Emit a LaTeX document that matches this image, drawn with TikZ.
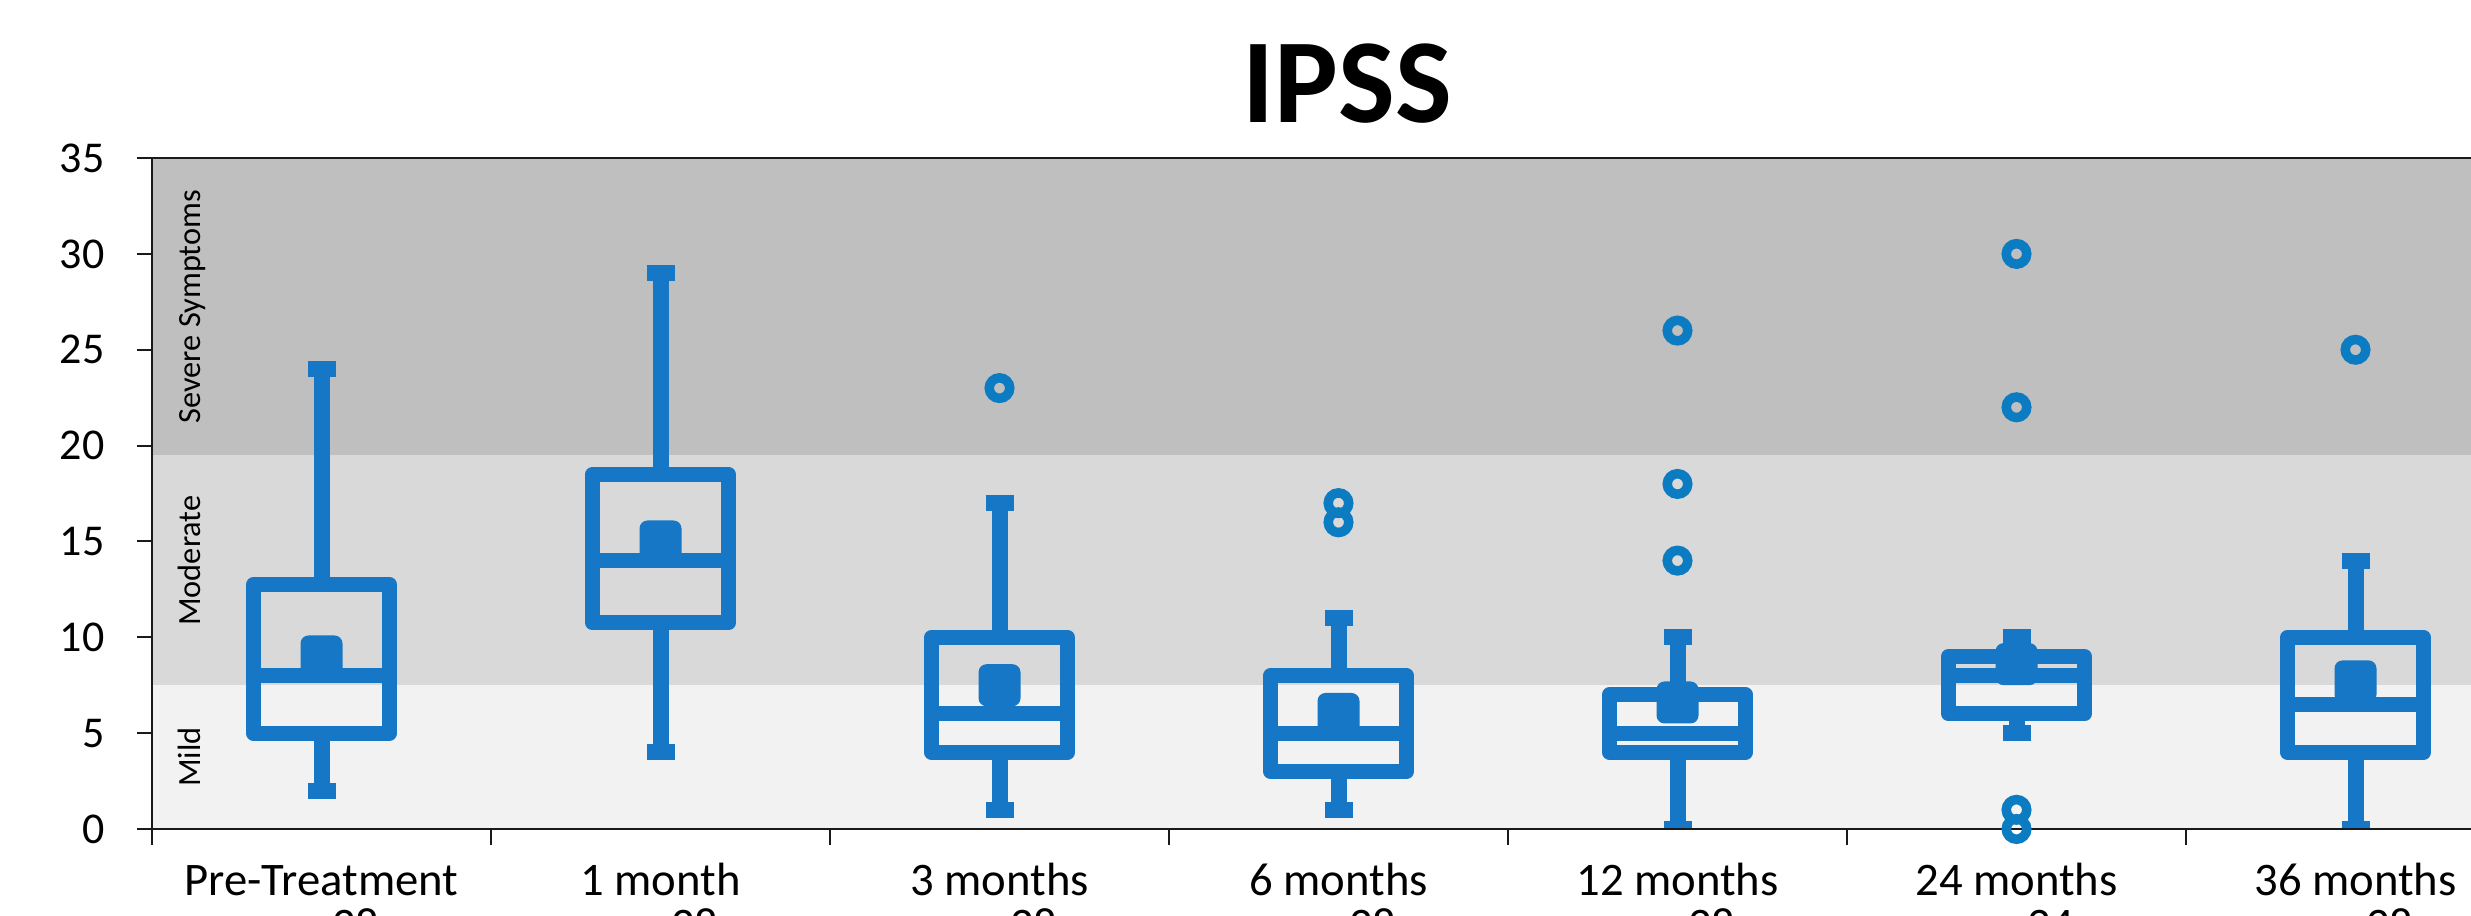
\documentclass[tikz,border=0pt]{standalone}
\usepackage{fontspec}
\setmainfont{Carlito}
\definecolor{boxblue}{HTML}{1577C6}
\definecolor{dotblue}{HTML}{0B7CC2}
\definecolor{severe}{HTML}{BFBFBF}
\definecolor{moderate}{HTML}{D9D9D9}
\definecolor{mild}{HTML}{F2F2F2}
\definecolor{axisgray}{HTML}{1A1A1A}
\begin{document}
\begin{tikzpicture}[x=0.3pt,y=0.3pt,
  axisline/.style={draw=axisgray,line width=0.6pt},
  boxline/.style={draw=boxblue,line width=4.5pt,line join=round},
  whisk/.style={draw=boxblue,line width=4.8pt},
  capline/.style={draw=boxblue,line width=4.8pt},
  meanmark/.style={rectangle,fill=boxblue,minimum size=12.6pt,inner sep=0pt,rounded corners=2.4pt},
  outlier/.style={circle,draw=dotblue,line width=2.85pt,minimum size=6.15pt,inner sep=0pt},
  ticklabel/.style={anchor=east,inner sep=0pt,font=\fontsize{13.2}{15}\selectfont},
  catlabel/.style={anchor=base,inner sep=0pt,font=\fontsize{14}{16}\selectfont},
  bandlabel/.style={anchor=base,rotate=90,inner sep=0pt,font=\fontsize{9.7}{11}\selectfont},
]
\useasboundingbox (0,0) rectangle (2471,915);
\clip (0,0) rectangle (2471,915);

% title
\node[anchor=base,inner sep=0pt,font=\fontsize{36}{40}\selectfont\bfseries] (title) at (1347,792) {IPSS};

% value scope: x in pixels, y in score units
\begin{scope}[y=5.751pt,yshift=25.8pt]
  % symptom bands
  \fill[mild]     (152,0)    rectangle (2471,7.5);
  \fill[moderate] (152,7.5)  rectangle (2471,19.5);
  \fill[severe]   (152,19.5) rectangle (2471,35);
  \draw[axisline] (152,35) -- (2471,35);

  \node[bandlabel] (sev) at (200,27.25) {Severe Symptoms};
  \node[bandlabel] (mod) at (200,14) {Moderate};
  \node[bandlabel] (mld) at (200,3.75) {Mild};

  % boxes, whiskers and means
  \begin{scope}
    \clip (152,0) rectangle (2471,35);
    \foreach \i/\lo/\qa/\md/\qc/\hi/\mn in {
        0/2/5/8/12.75/24/9,
        1/4/10.75/14/18.5/29/15,
        2/1/4/6/10/17/7.5,
        3/1/3/5/8/11/6,
        4/0/4/5/7/10/6.6,
        5/5/6/8/9/10/8.6,
        6/0/4/6.5/10/14/7.7}{
      \pgfmathsetmacro\cx{321.5+339*\i}
      \draw[whisk] (\cx,\qc) -- (\cx,\hi);
      \draw[whisk] (\cx,\qa) -- (\cx,\lo);
      \draw[capline] (\cx-14,\hi) -- (\cx+14,\hi);
      \draw[capline] (\cx-14,\lo) -- (\cx+14,\lo);
      \draw[boxline] (\cx-68,\qa) rectangle (\cx+68,\qc);
      \draw[boxline] (\cx-68,\md) -- (\cx+68,\md);
      \node[meanmark] (mean\i) at (\cx,\mn) {};
    }
  \end{scope}

  % axes
  \draw[axisline] (152,35) -- (152,-0.835);
  \draw[axisline] (137,0) -- (2471,0);
  \foreach \v in {0,5,...,35}{
    \draw[axisline] (137,\v) -- (152,\v);
    \node[ticklabel] (yl\v) at (105,\v) {\v};
  }
  \foreach \k in {1,...,6}{
    \draw[axisline] (152+339*\k,0) -- (152+339*\k,-0.835);
  }

  % outliers
  \foreach \i/\v in {2/23, 3/16, 3/17, 4/14, 4/18, 4/26, 5/0, 5/1, 5/22, 5/30, 6/25}{
    \node[outlier] at (321.5+339*\i,\v) {};
  }
\end{scope}

% category labels
\foreach \i/\t/\n in {0/Pre-Treatment/28, 1/1 month/28, 2/3 months/28, 3/6 months/28,
                      4/12 months/28, 5/24 months/24, 6/36 months/28}{
  \node[catlabel] (cat\i) at (321.5+339*\i,20) {\t};
  \node[catlabel] (n\i) at (321.5+339*\i,-25) {n = \n};
}
\end{tikzpicture}
\end{document}
